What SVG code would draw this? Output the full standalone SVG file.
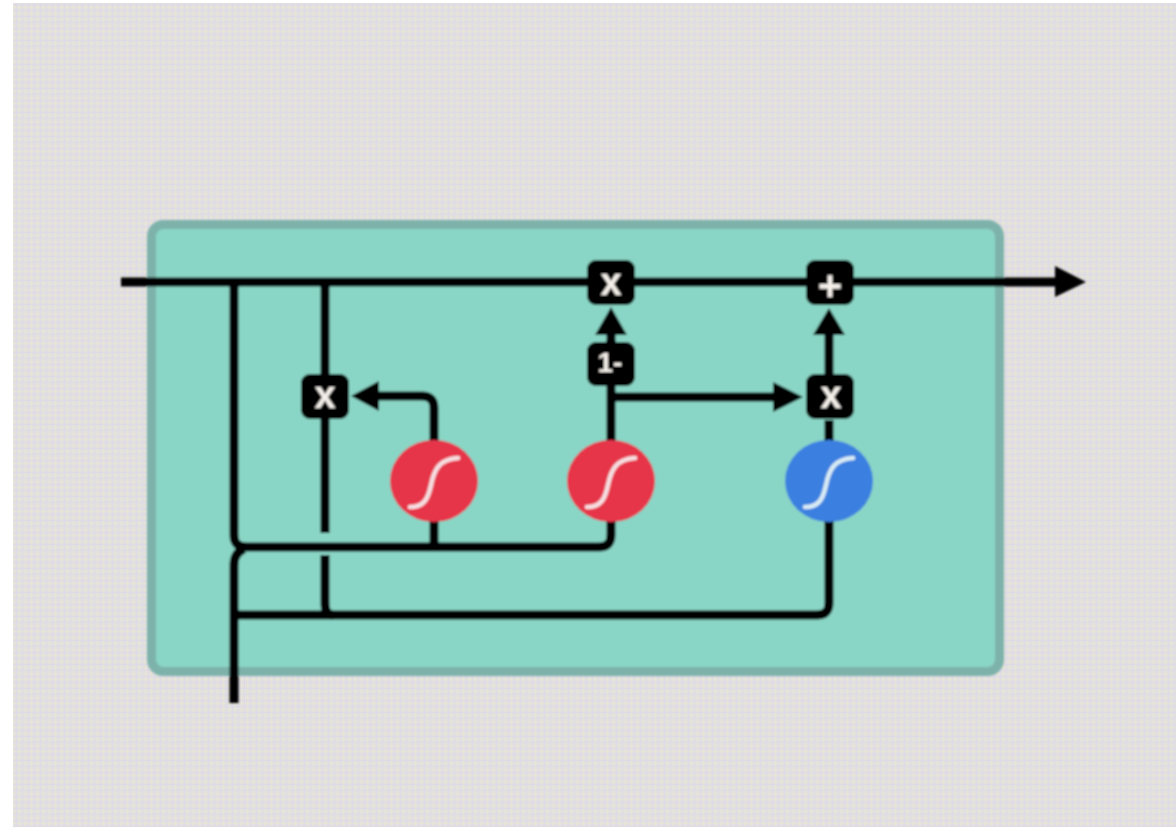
<svg xmlns="http://www.w3.org/2000/svg" width="1176" height="827" viewBox="0 0 1176 827">
<style>
.w{fill:none;stroke:#000;stroke-width:9}
.a{fill:#000}
.b{fill:#000}
.t{fill:#f4efe9;font-family:"Liberation Sans",Arial,sans-serif;font-weight:bold;text-anchor:middle}
.s{fill:none;stroke:#f6dfe2;stroke-width:4.5;stroke-linecap:round}
</style>
<defs>
<filter id="soft" x="-5%" y="-5%" width="110%" height="110%"><feGaussianBlur stdDeviation="0.9"/></filter>
<pattern id="dither" width="6" height="6" patternUnits="userSpaceOnUse">
<rect width="6" height="6" fill="#e2dfe0"/>
<path d="M1.5 0V6M0 1.5H6" stroke="#e8e4d6" stroke-width="1"/>
<path d="M4.5 0V6M0 4.5H6" stroke="#dedbe6" stroke-width="1"/>
</pattern>
<path id="sig" d="M-24 25C-10 25-6 17-3 3C0-12 5-23 24-24"/>
</defs>
<rect width="1176" height="827" fill="#fff"/>
<rect x="13" y="3" width="1163" height="824" fill="url(#dither)"/>
<g filter="url(#soft)">
<rect id="cell" x="151.5" y="224.5" width="848" height="447" rx="12" fill="#8ad6c6" stroke="#7db2aa" stroke-width="9"/>
<g id="connectors">
<path class="w" d="M121 282H1060"/>
<polygon class="a" points="1086,282 1055,266 1055,297"/>
<path class="w" d="M234 282V535Q234 547 246 547H599Q611 547 611 535V340"/>
<path class="w" d="M234 703V565Q234 553 244 549"/>
<path class="w" d="M234 615H817Q829 615 829 603V420"/>
<path class="w" d="M325 282V533"/>
<path class="w" d="M325 555V603Q325 615 333 615"/>
<path class="w" d="M434 547V408Q434 396 422 396H372"/>
<polygon class="a" points="351,396 379,381 379,411"/>
<polygon class="a" points="611,307 595,335 627,335"/>
<path class="w" d="M611 330V345"/>
<path class="w" d="M611 397H778"/>
<polygon class="a" points="803,397 773,382 773,412"/>
<path class="w" d="M829 380V330"/>
<polygon class="a" points="829,308 813,335 845,335"/>
</g>
<g id="multiply-top"><rect class="b" x="587" y="260" width="48" height="45" rx="9"/><text class="t" x="611" y="295" font-size="38">x</text></g>
<g id="add-top"><rect class="b" x="806" y="260" width="48" height="45" rx="9"/><text class="t" x="830" y="300" font-size="42">+</text></g>
<g id="one-minus"><rect class="b" x="587" y="342" width="48" height="44" rx="9"/><text class="t" x="610" y="372" font-size="28">1-</text></g>
<g id="multiply-forget"><rect class="b" x="301" y="374" width="48" height="45" rx="9"/><text class="t" x="325" y="408" font-size="38">x</text></g>
<g id="multiply-update"><rect class="b" x="806" y="374" width="48" height="45" rx="9"/><text class="t" x="831" y="408" font-size="38">x</text></g>
<g id="sigmoid-1"><ellipse cx="434" cy="481" rx="44" ry="41" fill="#e6364a"/><use href="#sig" x="434" y="482" class="s"/></g>
<g id="sigmoid-2"><ellipse cx="611" cy="481" rx="44" ry="41" fill="#e6364a"/><use href="#sig" x="611" y="482" class="s"/></g>
<g id="tanh"><ellipse cx="829" cy="481" rx="44" ry="41" fill="#3a80e0"/><use href="#sig" x="829" y="482" class="s" style="stroke:#d9ecf5"/></g>
</g>
</svg>
